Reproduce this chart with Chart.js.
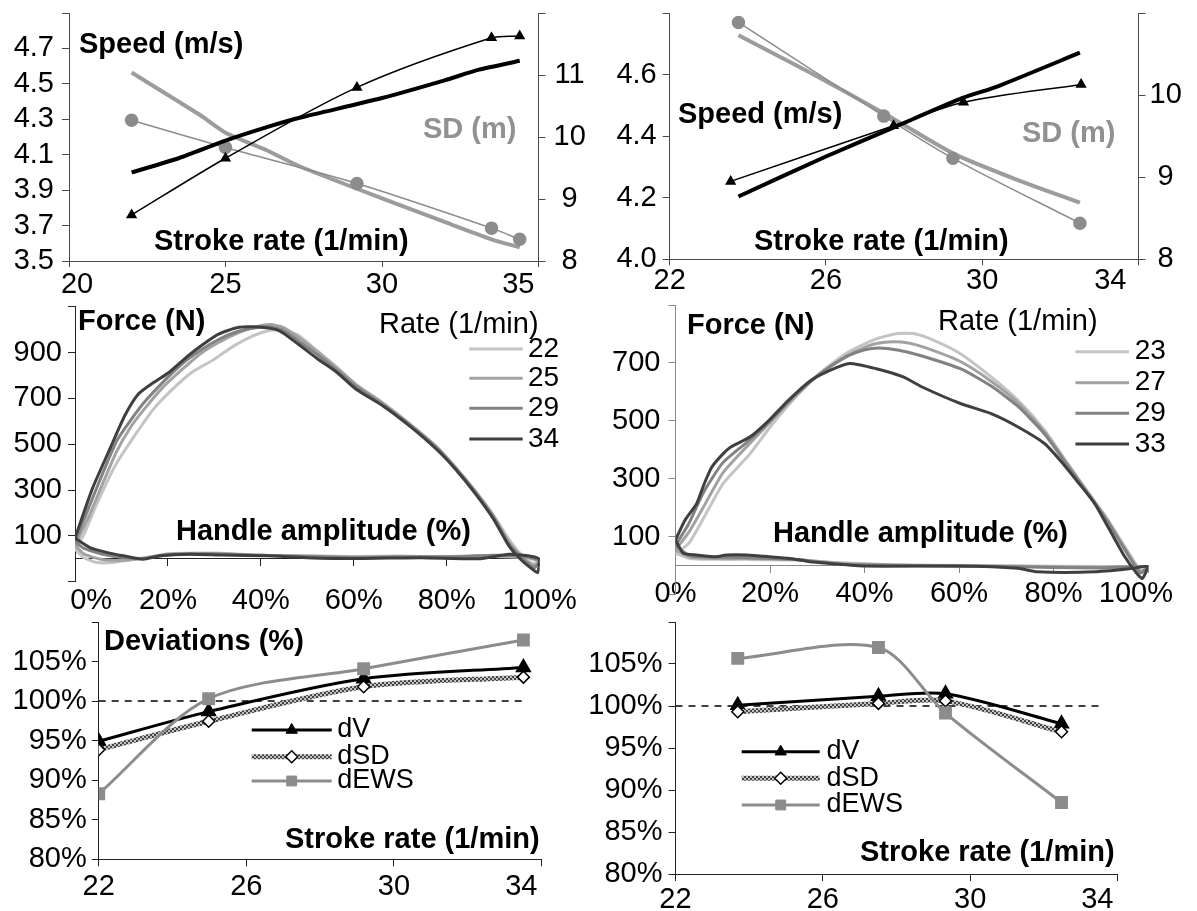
<!DOCTYPE html>
<html>
<head>
<meta charset="utf-8">
<script src="https://cdn.jsdelivr.net/npm/chart.js@4.4.1/dist/chart.umd.min.js"></script>
<style>
  body { margin: 0; background: #fff; }
  #page { position: relative; width: 1197px; height: 911px; overflow: hidden; font-family: 'Liberation Sans', Arial, sans-serif; }
  canvas { position: absolute; }
  .lbl { position: absolute; font-size: 29px; font-weight: bold; line-height: 1; white-space: nowrap; transform: translateY(-50%); color: #000; }
  .reg { font-weight: normal; }
  .gray { color: #919191; }
</style>
</head>
<body>
<div id="page">
  <canvas id="c1" width="600" height="300" style="left:0;top:0"></canvas>
  <canvas id="c2" width="597" height="300" style="left:600px;top:0"></canvas>
  <canvas id="c3" width="600" height="320" style="left:0;top:300px"></canvas>
  <canvas id="c4" width="597" height="320" style="left:600px;top:300px"></canvas>
  <canvas id="c5" width="600" height="299" style="left:0;top:612px"></canvas>
  <canvas id="c6" width="637" height="299" style="left:560px;top:612px"></canvas>

  <div class="lbl" style="left:79px;top:43px">Speed (m/s)</div>
  <div class="lbl gray" style="left:423px;top:127.5px">SD (m)</div>
  <div class="lbl" style="left:154px;top:240px">Stroke rate (1/min)</div>

  <div class="lbl" style="left:678px;top:113px">Speed (m/s)</div>
  <div class="lbl gray" style="left:1022px;top:132px">SD (m)</div>
  <div class="lbl" style="left:754px;top:240px">Stroke rate (1/min)</div>

  <div class="lbl" style="left:78px;top:320px">Force (N)</div>
  <div class="lbl reg" style="left:379px;top:322.5px">Rate (1/min)</div>
  <div class="lbl" style="left:176px;top:530px">Handle amplitude (%)</div>

  <div class="lbl" style="left:687px;top:324px">Force (N)</div>
  <div class="lbl reg" style="left:938px;top:320px">Rate (1/min)</div>
  <div class="lbl" style="left:773px;top:531.5px">Handle amplitude (%)</div>

  <div class="lbl" style="left:104px;top:639.5px">Deviations (%)</div>
  <div class="lbl" style="left:285px;top:837.5px">Stroke rate (1/min)</div>
  <div class="lbl" style="left:860px;top:851px">Stroke rate (1/min)</div>
</div>
<script>
// ---- top left: speed and stroke distance vs stroke rate
const rateTL = [22, 25, 29.2, 33.5, 34.4];
const speedTL = [3.76, 4.08, 4.48, 4.76, 4.77];
const sdTL = [10.27, 9.83, 9.25, 8.53, 8.35];
const fitRateTL = [22, 23.5, 25, 26.4, 27.4, 30, 32, 33.1, 34.4];
const speedFitTL = [4.0, 4.08, 4.18, 4.26, 4.31, 4.42, 4.52, 4.58, 4.63];
const fitRateSdTL = [22, 24.2, 25, 26.3, 27.4, 30, 32, 33.5, 34.4];
const sdFitTL = [11.04, 10.35, 10.07, 9.79, 9.52, 9.01, 8.63, 8.35, 8.22];

// ---- top right
const rateTR = [23.56, 27.73, 29.52, 32.53];
const speedTR = [4.253, 4.434, 4.51, 4.568];
const rateSdTR = [23.76, 27.48, 29.25, 32.5];
const sdTR = [10.885, 9.744, 9.23, 8.44];
const fitRateTR = [23.76, 26.0, 27.8, 29.5, 30.4, 32.5];
const speedFitTR = [4.204, 4.334, 4.432, 4.524, 4.562, 4.671];
const fitRateSdTR = [23.76, 25.53, 27.48, 29.25, 30.91, 32.5];
const sdFitTR = [10.73, 10.29, 9.78, 9.29, 8.965, 8.69];

// ---- force curves, [handle amplitude %, force N], drive then recovery
const ratesL = ['22', '25', '29', '34'];
const forceL22 = [[0,42],[2,110],[4.5,231],[8.6,405],[12.8,536],[16.9,653],[21,740],[25.1,813],[30,871],[34.2,929],[38.3,973],[41.6,995],[44.9,1000],[48.1,975],[52.3,905],[56.4,835],[60.5,760],[66.3,680],[72,590],[77.8,490],[81.9,400],[86,300],[90.1,190],[93.4,85],[96,20],[98.4,-20],[100,-10],[97,5],[90,10],[80,8],[70,12],[60,10],[50,12],[40,15],[30,25],[20,22],[15.4,6],[12.5,-2],[8.2,-16],[4.7,-16],[1.8,6],[0,42]];
const forceL25 = [[0,60],[3,185],[6,330],[9,470],[12,575],[15,655],[19,750],[23,825],[27,895],[31,945],[35,985],[39,1012],[42,1022],[45,1008],[48,968],[52.3,900],[56.4,832],[60.5,760],[66.3,678],[72,588],[77.8,488],[81.9,398],[86,298],[90.1,185],[93.4,72],[96,12],[98.8,-30],[100,-12],[97,8],[90,12],[80,10],[70,10],[60,8],[50,12],[40,15],[30,22],[20,20],[15,4],[11,-6],[6,-4],[2,20],[0,60]];
const forceL29 = [[0,75],[3,225],[6,375],[9,515],[12,605],[15,685],[19,772],[23,850],[27,910],[31,958],[35,992],[39,1008],[42,1012],[45,995],[48,952],[52.3,888],[56.4,822],[60.5,752],[66.3,672],[72,585],[77.8,485],[81.9,395],[86,295],[90.1,180],[93.4,65],[96,8],[98.8,-40],[100,-8],[97,10],[90,15],[80,8],[70,8],[60,5],[50,10],[40,15],[30,22],[20,18],[15,1],[11,4],[6,20],[2,45],[0,75]];
const forceL34 = [[0,90],[3.7,304],[7.8,493],[10.7,624],[13.6,718],[16.9,769],[20.2,813],[24.3,885],[27.6,936],[30.9,980],[35,1009],[39.1,1012],[44,995],[48.1,936],[52.3,871],[56.4,813],[60.5,740],[66.3,667],[72,580],[77.8,478],[81.9,391],[86,289],[90.1,173],[93.4,56],[95.9,-2],[98.4,-45],[99.6,-60],[100,-2],[97.5,13],[93.4,20],[86.8,0],[74.5,5],[60.5,1],[49.8,5],[41.6,13],[31.8,16],[24.7,20],[18.3,13],[14.7,-2],[10.4,13],[6.8,28],[3.2,49],[0,90]];

const ratesR = ['23', '27', '29', '33'];
const forceR23 = [[0,43],[2.8,77],[6.1,169],[10.1,284],[15.8,387],[20.6,491],[25.5,583],[30.4,663],[36,732],[41.7,778],[46.6,801],[50.6,801],[54.7,778],[60.3,732],[66.8,652],[72.5,571],[78.1,468],[83,353],[87,261],[91.1,169],[95.1,66],[98.4,-15],[100,-3],[90,-3],[70,0],[50,2],[35,10],[25,20],[15,22],[8,22],[3,25],[0,43]];
const forceR27 = [[0,55],[2.8,115],[6,205],[10,320],[15,410],[20,495],[25,580],[30,655],[36,722],[41,760],[45,772],[49,770],[53,752],[60.3,705],[66.8,637],[72.5,562],[78.1,462],[83,350],[87,258],[91.1,165],[95.1,60],[98.4,-20],[100,-3],[90,-5],[70,-2],[50,2],[35,8],[25,22],[15,25],[8,25],[3,30],[0,55]];
const forceR29 = [[0,70],[2.8,145],[6,255],[10,355],[15,425],[20,500],[25,585],[30,655],[36,720],[40,745],[43,752],[47,745],[52,725],[60.3,680],[66.8,620],[72.5,550],[78.1,455],[83,345],[87,255],[91.1,160],[95.1,55],[98.4,-25],[100,-3],[90,-8],[70,-3],[50,0],[35,5],[25,22],[15,28],[8,30],[3,35],[0,70]];
const forceR33 = [[0,89],[2,157],[4.5,215],[6.1,284],[7.7,341],[10.1,387],[11.7,410],[15.8,445],[19.8,502],[23.9,571],[28.7,640],[32.8,675],[36.8,698],[42.5,680],[48.2,652],[52.2,617],[60.3,560],[66.8,525],[72.5,479],[78.1,422],[81.4,364],[85.4,284],[88.7,215],[91.9,123],[95.1,31],[97.6,-26],[98.8,-44],[100,-3],[96.8,-9],[88.7,-21],[76.5,-21],[72.5,-9],[60.3,-1],[40,-1],[32.7,8],[28.4,14],[24.2,25],[20,31],[15.1,37],[10.8,37],[8.7,31],[4.5,37],[1.65,43],[0,89]];

// ---- deviations (%) vs stroke rate
const rateBL = [22, 24.98, 29.18, 33.51];
const dvBL = [94.92, 98.67, 102.83, 104.26];
const dsdBL = [93.86, 97.45, 101.81, 103.03];
const dewsBL = [88.28, 100.3, 104.09, 107.72];

const rateBR = [23.69, 27.51, 29.33, 32.48];
const dvBR = [100.08, 101.15, 101.46, 97.89];
const dsdBR = [99.31, 100.31, 100.61, 96.93];
const dewsBR = [105.67, 106.97, 99.16, 88.51];

const refRate = [22, 33.6];
const refLevel = [100, 100];

const FONT = "'Liberation Sans', Arial, sans-serif";
const TICK_SIZE = 29;
const GRAYS = ['#c4c4c4', '#a2a2a2', '#828282', '#3f3f3f'];

const pts = (xs, ys) => xs.map((x, i) => ({ x: x, y: ys[i] }));
const pairs = list => list.map(p => ({ x: p[0], y: p[1] }));

// excel keeps the end labels inside the plot, nudge them with spaces
function nudge(text, px) {
    const n = Math.round(Math.abs(px) * 2 / (0.278 * TICK_SIZE));
    const pad = ' '.repeat(n);
    return px > 0 ? pad + text : text + pad;
}

function hatch() {
    const c = document.createElement('canvas');
    c.width = 4; c.height = 4;
    const g = c.getContext('2d');
    g.fillStyle = '#c4c4c4';
    g.fillRect(0, 0, 4, 4);
    g.fillStyle = '#444';
    g.fillRect(0, 0, 2, 2);
    g.fillRect(2, 2, 2, 2);
    return g.createPattern(c, 'repeat');
}

function drawMarker(ctx, ds, x, y) {
    const r = ds.pointRadius;
    ctx.beginPath();
    if (ds.pointStyle === 'triangle') {
        ctx.moveTo(x, y - r);
        ctx.lineTo(x + r * 0.866, y + r / 2);
        ctx.lineTo(x - r * 0.866, y + r / 2);
    } else if (ds.pointStyle === 'rectRot') {
        ctx.moveTo(x, y - r);
        ctx.lineTo(x + r, y);
        ctx.lineTo(x, y + r);
        ctx.lineTo(x - r, y);
    } else if (ds.pointStyle === 'rect') {
        const s = r / Math.SQRT2;
        ctx.rect(x - s, y - s, 2 * s, 2 * s);
    } else {
        ctx.arc(x, y, r, 0, Math.PI * 2);
    }
    ctx.closePath();
    ctx.fillStyle = ds.pointBackgroundColor;
    ctx.fill();
    ctx.lineWidth = ds.pointBorderWidth || 1;
    ctx.strokeStyle = ds.pointBorderColor || ds.pointBackgroundColor;
    ctx.stroke();
}

// legend drawn inside the plot, like the excel one
const insideLegend = {
    id: 'insideLegend',
    afterDatasetsDraw(chart, args, opts) {
        if (!opts.rows) return;
        const ctx = chart.ctx;
        ctx.save();
        opts.rows.forEach((y, i) => {
            const ds = chart.data.datasets[opts.sets[i]];
            ctx.setLineDash([]);
            ctx.strokeStyle = ds.borderColor;
            ctx.lineWidth = ds.borderWidth;
            ctx.beginPath();
            ctx.moveTo(opts.x1, y);
            ctx.lineTo(opts.x2, y);
            ctx.stroke();
            if (ds.pointRadius) drawMarker(ctx, ds, (opts.x1 + opts.x2) / 2, y);
            ctx.fillStyle = '#000';
            ctx.font = opts.font;
            ctx.textBaseline = 'middle';
            ctx.fillText(ds.label, opts.textX, y);
        });
        ctx.restore();
    }
};
Chart.register(insideLegend);

function axis(o) {
    const vertical = o.position === 'left' || o.position === 'right';
    return {
        type: 'linear',
        min: o.min,
        max: o.max,
        position: o.position,
        grid: { drawOnChartArea: false, drawTicks: true, tickLength: o.tick, color: o.color },
        border: { color: o.color, width: 1 },
        ticks: {
            stepSize: o.step,
            padding: o.pad,
            color: '#000',
            crossAlign: o.cross || 'near',
            maxRotation: 0,
            autoSkip: false,
            font: { family: FONT, size: TICK_SIZE },
            callback: o.label
        },
        afterFit: scale => {
            if (vertical) {
                if (o.size) scale.width = o.size;
                scale.paddingTop = 0;
                scale.paddingBottom = 0;
            } else {
                if (o.size) scale.height = o.size;
                scale.paddingLeft = 0;
                scale.paddingRight = 0;
            }
        }
    };
}

function line(label, data, color, width, extra) {
    return Object.assign({
        label: label,
        data: data,
        borderColor: color,
        backgroundColor: color,
        borderWidth: width,
        pointRadius: 0,
        tension: 0.3,
        yAxisID: 'y'
    }, extra || {});
}

function options(padding, scales, legend) {
    return {
        responsive: false,
        animation: false,
        events: [],
        layout: { padding: padding },
        plugins: {
            legend: { display: false },
            tooltip: { enabled: false },
            insideLegend: legend || {}
        },
        scales: scales
    };
}

const hideTop = (top, fmt) => v => (Math.abs(v - top) < 1e-6 ? '' : fmt(v));
const AX = '#4a4a4a';

// top left
new Chart(document.getElementById('c1'), {
    type: 'line',
    data: {
        datasets: [
            line('Speed', pts(rateTL, speedTL), '#000', 1.5, { pointStyle: 'triangle', pointRadius: 5, pointBackgroundColor: '#000', pointBorderColor: '#000' }),
            line('Speed fit', pts(fitRateTL, speedFitTL), '#000', 4, { tension: 0.2 }),
            line('SD', pts(rateTL, sdTL), '#8c8c8c', 1.5, { yAxisID: 'y2', pointStyle: 'circle', pointRadius: 6, pointBackgroundColor: '#8c8c8c', pointBorderColor: '#8c8c8c' }),
            line('SD fit', pts(fitRateSdTL, sdFitTL), '#9c9c9c', 4, { yAxisID: 'y2', tension: 0.2 })
        ]
    },
    options: options({ top: 13, left: 0, right: 0, bottom: 0 }, {
        x: axis({ min: 20, max: 35, step: 5, position: 'bottom', tick: 6, pad: 1, size: 39, color: AX,
            label: v => (v === 20 ? nudge('20', 8) : v === 35 ? nudge('35', -20) : v) }),
        y: axis({ min: 3.5, max: 4.9, step: 0.2, position: 'left', tick: 7, pad: 8, size: 69, color: AX, label: hideTop(4.9, v => v.toFixed(1)) }),
        y2: axis({ min: 8, max: 12, step: 1, position: 'right', tick: 7, pad: 8, size: 61.5, color: AX, cross: 'center', label: hideTop(12, v => v) })
    })
});

// top right
new Chart(document.getElementById('c2'), {
    type: 'line',
    data: {
        datasets: [
            line('Speed', pts(rateTR, speedTR), '#000', 1.5, { pointStyle: 'triangle', pointRadius: 5, pointBackgroundColor: '#000', pointBorderColor: '#000' }),
            line('Speed fit', pts(fitRateTR, speedFitTR), '#000', 4, { tension: 0.2 }),
            line('SD', pts(rateSdTR, sdTR), '#8c8c8c', 1.5, { yAxisID: 'y2', pointStyle: 'circle', pointRadius: 6, pointBackgroundColor: '#8c8c8c', pointBorderColor: '#8c8c8c' }),
            line('SD fit', pts(fitRateSdTR, sdFitTR), '#9c9c9c', 4, { yAxisID: 'y2', tension: 0.2 })
        ]
    },
    options: options({ top: 13, left: 0, right: 0, bottom: 0 }, {
        x: axis({ min: 22, max: 34, step: 4, position: 'bottom', tick: 6, pad: -2, size: 40.7, color: AX,
            label: v => (v === 34 ? nudge('34', -30) : v) }),
        y: axis({ min: 4.0, max: 4.8, step: 0.2, position: 'left', tick: 7, pad: 6, size: 69.7, color: AX, label: hideTop(4.8, v => v.toFixed(1)) }),
        y2: axis({ min: 8, max: 11, step: 1, position: 'right', tick: 7, pad: 4, size: 58.5, color: AX, cross: 'center', label: hideTop(11, v => v) })
    })
});

function forceSets(curves, rates) {
    // darkest curve first so it is drawn on top
    return curves.map((c, i) => line(rates[i], pairs(c), GRAYS[i], 3, { tension: 0.2 })).reverse();
}

// middle left
new Chart(document.getElementById('c3'), {
    type: 'line',
    data: { datasets: forceSets([forceL22, forceL25, forceL29, forceL34], ratesL) },
    options: options({ top: 6.7, left: 0, right: 60.4, bottom: 38.3 }, {
        x: axis({ min: 0, max: 100, step: 20, position: { y: 0 }, tick: 7, pad: 18, color: '#222',
            label: v => (v === 0 ? nudge('0%', 16) : v + '%') }),
        y: axis({ min: -100, max: 1100, step: 200, position: 'left', tick: 7, pad: 6, size: 75, color: '#222', label: v => (v < 0 || v > 1000 ? '' : v) })
    }, { x1: 469.3, x2: 522.7, textX: 528, rows: [49, 78.3, 108.3, 139], sets: [3, 2, 1, 0], font: '28px ' + FONT })
});

// middle right
new Chart(document.getElementById('c4'), {
    type: 'line',
    data: { datasets: forceSets([forceR23, forceR27, forceR29, forceR33], ratesR) },
    options: options({ top: 5, left: 0, right: 49, bottom: 25.3 }, {
        x: axis({ min: 0, max: 100, step: 20, position: { y: 0 }, tick: 7, pad: 3.5, color: '#888',
            label: v => (v === 100 ? nudge('100%', -11) : v + '%') }),
        y: axis({ min: -100, max: 900, step: 200, position: 'left', tick: 7, pad: 8, size: 75.5, color: '#888', label: v => (v < 0 || v > 800 ? '' : v) })
    }, { x1: 475.4, x2: 529, textX: 534.7, rows: [51.7, 82.7, 113.3, 144], sets: [3, 2, 1, 0], font: '28px ' + FONT })
});

const dsdPattern = hatch();

function deviationSets(rate, dv, dsd, dews) {
    return [
        line('dEWS', pts(rate, dews), '#8c8c8c', 3, { pointStyle: 'rect', pointRadius: 7, pointBackgroundColor: '#8c8c8c', pointBorderColor: '#8c8c8c' }),
        line('dSD', pts(rate, dsd), dsdPattern, 5, { pointStyle: 'rectRot', pointRadius: 6, pointBackgroundColor: '#fff', pointBorderColor: '#000', pointBorderWidth: 1.5 }),
        line('dV', pts(rate, dv), '#000', 3, { pointStyle: 'triangle', pointRadius: 6.5, pointBackgroundColor: '#000', pointBorderColor: '#000' }),
        line('ref', pts(refRate, refLevel), '#000', 1.5, { borderDash: [7, 6], tension: 0 })
    ];
}

const pct = hideTop(110, v => v + '%');

// bottom left
new Chart(document.getElementById('c5'), {
    type: 'line',
    data: { datasets: deviationSets(rateBL, dvBL, dsdBL, dewsBL) },
    options: options({ top: 1.3, left: 0, right: 58.5, bottom: 0 }, {
        x: axis({ min: 22, max: 34, step: 4, position: 'bottom', tick: 7, pad: 3.6, size: 51.7, color: '#222',
            label: v => (v === 34 ? nudge('34', -20) : v) }),
        y: axis({ min: 80, max: 110, step: 5, position: 'left', tick: 7, pad: 5, size: 98.7, color: '#222', label: pct })
    }, { x1: 251.7, x2: 331.7, textX: 337.3, rows: [118, 144.7, 169], sets: [2, 1, 0], font: '27px ' + FONT })
});

// bottom right (canvas starts at 560 so the % labels are not cut)
new Chart(document.getElementById('c6'), {
    type: 'line',
    data: { datasets: deviationSets(rateBR, dvBR, dsdBR, dewsBR) },
    options: options({ top: 1.3, left: 0, right: 79.5, bottom: 0 }, {
        x: axis({ min: 22, max: 34, step: 4, position: 'bottom', tick: 7, pad: 2, size: 37, color: '#222',
            label: v => (v === 34 ? nudge('34', -19) : v) }),
        y: axis({ min: 80, max: 110, step: 5, position: 'left', tick: 7, pad: 6, size: 115.5, color: '#222', label: pct })
    }, { x1: 181.7, x2: 259.7, textX: 266.6, rows: [139.7, 166.3, 193], sets: [2, 1, 0], font: '27px ' + FONT })
});
</script>
</body>
</html>
